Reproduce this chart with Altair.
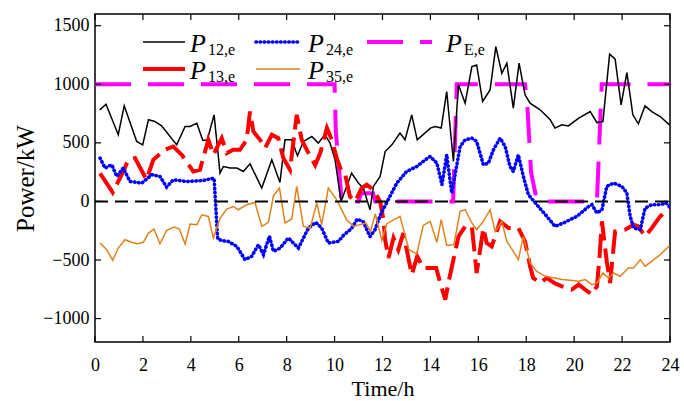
import altair as alt
import pandas as pd

# ---------------- data ----------------
t12 = [0.2, 0.46, 0.97, 1.22, 1.74, 1.99, 2.23, 2.5, 2.78, 3.41, 3.76, 3.97, 4.25, 4.5, 4.69, 4.97,
       5.22, 5.36, 5.64, 5.92, 6.19, 6.47, 6.96, 7.38, 7.72, 7.93, 8.21, 8.45, 8.70, 9.05, 9.32, 9.60,
       9.81, 10.02, 10.27, 10.71, 10.99, 11.2, 11.48, 11.62, 11.9, 12.11, 12.39, 12.73, 12.94, 13.22,
       13.45, 14.0, 14.2, 14.45, 14.68, 14.96, 15.17, 15.45, 15.73, 15.93, 16.18, 16.49, 16.73, 16.98,
       17.19, 17.46, 17.70, 17.95, 18.16, 18.58, 19.0, 19.2, 19.49, 19.76, 20.19, 20.67, 20.95, 21.2,
       21.48, 21.71, 21.96, 22.2, 22.45, 22.68, 22.96, 23.24, 23.59, 23.98]
p12 = [782, 830, 569, 816, 512, 483, 697, 682, 645, 483, 640, 640, 668, 520, 526, 739,
       242, 298, 285, 285, 256, 321, 114, 355, 162, 526, 526, 390, 512, 554, 498, 569,
       498, 355, 0, 242, 157, 114, -71, 128, 213, 426, 483, 583, 526, 739,
       526, 626, 640, 626, 938, 341, 995, 839, 1151, 1165, 853, 952, 1321, 1094,
       1180, 796, 1180, 910, 839, 782, 697, 626, 654, 645, 711, 767, 673, 682,
       1257, 1214, 824, 1100, 739, 662, 816, 767, 725, 654]

t24 = [0.21, 0.42, 0.70, 0.91, 1.18, 1.46, 1.95, 2.37, 2.71, 2.99, 3.27, 3.83, 4.52, 4.97, 5.12,
       5.3, 5.56, 5.92, 6.26, 6.54, 6.82, 7.03, 7.28, 7.45, 7.73, 8.07, 8.49, 8.91, 9.22, 9.46, 9.74,
       10.16, 10.37, 10.71, 10.95, 11.2, 11.48, 11.69, 11.9, 12.2, 12.6, 13.01, 13.43, 13.78, 13.99,
       14.27, 14.48, 14.68, 14.89, 15.24, 15.45, 15.73, 15.93, 16.07, 16.21, 16.42, 16.63, 16.91,
       17.12, 17.32, 17.46, 17.67, 17.88, 18.09, 18.44, 18.86, 19.2, 19.55, 19.83, 20.11, 20.6,
       20.74, 20.95, 21.16, 21.36, 21.64, 21.99, 22.2, 22.34, 22.48, 22.76, 22.96, 23.24, 23.59,
       23.84, 23.98]
p24 = [370, 285, 313, 213, 285, 170, 157, 228, 213, 123, 185, 170, 179, 199, -320,
       -335, -341, -384, -497, -469, -369, -454, -298, -426, -398, -312, -398, -227, -179, -227, -355,
       -341, -290, -230, -150, -175, -300, -240, -120, 0, 157, 256, 298, 355, 384,
       327, 142, 398, 72, 469, 526, 540, 512, 413, 313, 327, 441, 540,
       469, 298, 256, 398, 213, 57, -28, -128, -213, -184, -156, -128, -43,
       -28, -99, -71, 128, 157, 128, 72, -128, -227, -241, -57, -28, -28,
       -14, -43]

t13 = [0.21, 0.74, 1.18, 1.39, 1.67, 2.15, 2.43, 2.92, 3.27, 3.62, 4.1, 4.38, 4.73, 4.94, 5.29,
       5.5, 5.77, 6.05, 6.33, 6.47, 6.61, 6.89, 7.1, 7.38, 7.65, 7.86, 8.14, 8.42, 8.63, 8.91, 9.19,
       9.4, 9.68, 9.88, 10.09, 10.29, 10.43, 10.64, 10.86, 11.13, 11.34, 11.62, 11.9, 12.04, 12.11,
       12.25, 12.46, 12.66, 12.87, 13.01, 13.22, 13.45, 13.7, 13.99, 14.24, 14.41, 14.62, 14.75,
       14.96, 15.17, 15.31, 15.45, 15.73, 15.93, 16.21, 16.35, 16.56, 16.91, 17.26, 17.67, 17.95,
       18.16, 18.29, 18.58, 18.86, 19.2, 19.49, 19.9, 20.19, 20.46, 20.74, 20.95, 21.06, 21.16,
       21.36, 21.5, 21.71, 21.85, 22.13, 22.48, 22.68, 22.96, 23.24, 23.59, 23.98]
p13 = [240, 77, 256, 355, 370, 185, 355, 441, 469, 398, 256, 270, 526, 398, 540,
       413, 441, 441, 526, 767, 597, 526, 455, 569, 540, 370, 270, 739, 526, 413, 310,
       413, 626, 526, 370, 256, 242, 43, 0, 114, 142, 100, 0, -156, -327,
       -483, -312, -412, -270, -412, -625, -469, -568, -568, -568, -696, -838, -696,
       -497, -300, -256, -213, -213, -611, -227, -355, -384, -170, -227, -227, -341,
       -554, -653, -696, -653, -700, -725, -753, -710, -753, -795, -725, -469, -170,
       -511, -696, -256, -250, -241, -199, -213, -298, -227, -128, -57]

t35 = [0.21, 0.49, 0.74, 0.97, 1.25, 1.53, 1.77, 2.02, 2.23, 2.46, 2.71, 2.99, 3.3, 3.52, 3.76,
       3.97, 4.25, 4.46, 4.73, 4.94, 5.22, 5.5, 5.77, 5.98, 6.33, 6.68, 6.96, 7.24, 7.45, 7.7, 7.93,
       8.21, 8.42, 8.7, 8.98, 9.26, 9.46, 9.74, 10.09, 10.5, 10.8, 11.3, 11.5, 11.7, 11.97, 12.18,
       12.73, 13.1, 13.43, 13.7, 13.99, 14.27, 14.45, 14.68, 14.98, 15.24, 15.45, 15.73, 15.93,
       16.21, 16.49, 16.7, 16.98, 17.19, 17.46, 17.67, 17.88, 18.16, 18.44, 18.79, 19.2, 19.49,
       19.83, 20.19, 20.46, 20.74, 20.95, 21.2, 21.43, 21.64, 21.92, 22.26, 22.48, 22.76, 22.96,
       23.59, 23.98]
p35 = [-355, -412, -503, -398, -327, -349, -361, -349, -270, -236, -361, -247, -219, -236, -364,
       -193, -199, -114, -128, -312, -142, -65, -43, -71, -28, -9, -213, -179, 49, 114, -184,
       -150, 128, -213, -227, -14, -199, 114, 14, -156, -213, -184, -256, -105, -330, -190,
       -128, -410, -450, -205, -170, -350, -156, -375, -369, -85, -71, -184, -241,
       -170, -71, -256, -170, -341, -426, -497, -298, -525, -597, -639, -653, -667,
       -673, -682, -667, -710, -696, -611, -653, -611, -639, -568, -568, -497, -554,
       -454, -378]

tE = [0, 10.0, 10.05, 10.3, 11.0, 11.1, 11.6, 11.7, 14.95, 15.1, 17.95, 18.05, 18.2, 18.45, 20.95, 21.15, 24]
pE = [1000, 1000, 600, 0, 0, 70, 70, 0, 0, 1000, 1000, 800, 250, 0, 0, 1000, 1000]

x_ticks = [0, 2, 4, 6, 8, 10, 12, 14, 16, 18, 20, 22, 24]
y_ticks = [-1000, -500, 0, 500, 1000, 1500]

# ---------------- layout ----------------
W, H = 575, 328
FONT = "Liberation Serif"
MINUS_EXPR = "datum.value < 0 ? '\u2212' + format(-datum.value, 'd') : format(datum.value, 'd')"

x_scale = alt.Scale(domain=[0, 24], nice=False, zero=False)
y_scale = alt.Scale(domain=[-1200, 1600], nice=False, zero=False)

X = alt.X("t:Q", scale=x_scale,
          axis=alt.Axis(values=x_ticks, title="Time/h", ticks=False, domain=False, grid=False,
                        format="d",
                        labelFont=FONT, labelFontSize=18, labelColor="black", labelPadding=14,
                        titleFont=FONT, titleFontSize=22, titleFontWeight="normal",
                        titleColor="black", titlePadding=4, labelFlush=False))
Y = alt.Y("v:Q", scale=y_scale,
          axis=alt.Axis(values=y_ticks, title="Power/kW", ticks=False, domain=False, grid=False,
                        labelExpr=MINUS_EXPR,
                        labelFont=FONT, labelFontSize=18, labelColor="black", labelPadding=6,
                        titleFont=FONT, titleFontSize=25, titleFontWeight="normal",
                        titleColor="black", titlePadding=4, labelFlush=False))


def line_layer(t, v, color, width, dash=None, cap="butt"):
    df = pd.DataFrame({"t": t, "v": v})
    kw = dict(color=color, strokeWidth=width, strokeCap=cap, clip=True)
    if dash is not None:
        kw["strokeDash"] = dash
    return alt.Chart(df).mark_line(**kw).encode(x=X, y=Y)


BLUE_DASH = [0.5, 3.6]
lE = line_layer(tE, pE, "#FF00FF", 4, [36, 17])
l12 = line_layer(t12, p12, "black", 1.5)
l13 = line_layer(t13, p13, "#FF0000", 4, [24, 8])
l24 = line_layer(t24, p24, "#0000FF", 3.6, BLUE_DASH, cap="round")
l35 = line_layer(t35, p35, "#E0821E", 1.5)

zero = alt.Chart(pd.DataFrame({"v": [0]})).mark_rule(
    color="black", strokeWidth=2, strokeDash=[13, 7]).encode(
    y=Y, x=alt.value(0), x2=alt.value(W))

# inner ticks
xt = pd.DataFrame({"t": x_ticks})
yt = pd.DataFrame({"v": y_ticks})
tick_style = dict(color="black", strokeWidth=1.2)
xb = alt.Chart(xt).mark_rule(**tick_style).encode(x=X, y=alt.value(H), y2=alt.value(H - 6))
xtop = alt.Chart(xt).mark_rule(**tick_style).encode(x=X, y=alt.value(0), y2=alt.value(6))
yl = alt.Chart(yt).mark_rule(**tick_style).encode(y=Y, x=alt.value(0), x2=alt.value(6))
yr = alt.Chart(yt).mark_rule(**tick_style).encode(y=Y, x=alt.value(W), x2=alt.value(W - 6))

# legend (manual, with subscripts)
one = pd.DataFrame({"a": [0]})
legend_items = [
    # color, width, dash, cap, x1, x2, row, Px, sub
    ("black", 1.5, None, "butt", 48, 90, 0, 95, "12,e"),
    ("#0000FF", 3.6, BLUE_DASH, "round", 161, 203, 0, 213, "24,e"),
    ("#FF00FF", 4, [36, 17], "butt", 272, 337, 0, 351, "E,e"),
    ("#FF0000", 4, None, "butt", 48, 90, 1, 95, "13,e"),
    ("#E0821E", 1.5, None, "butt", 161, 205, 1, 213, "35,e"),
]
row_line_y = [28, 55]
row_base_y = [38, 65]
legend_layers = []
for color, width, dash, cap, x1, x2, row, px, sub in legend_items:
    kw = dict(color=color, strokeWidth=width, strokeCap=cap)
    if dash is not None:
        kw["strokeDash"] = dash
    legend_layers.append(alt.Chart(one).mark_rule(**kw).encode(
        x=alt.value(x1), x2=alt.value(x2), y=alt.value(row_line_y[row])))
    legend_layers.append(alt.Chart(one).mark_text(
        font=FONT, fontSize=26, fontStyle="italic", align="left", baseline="alphabetic",
        color="black").encode(x=alt.value(px), y=alt.value(row_base_y[row]), text=alt.value("P")))
    legend_layers.append(alt.Chart(one).mark_text(
        font=FONT, fontSize=16, align="left", baseline="alphabetic",
        color="black").encode(x=alt.value(px + 18), y=alt.value(row_base_y[row] + 3),
                              text=alt.value(sub)))

chart = alt.layer(
    lE, l12, l13, l24, l35, zero, xb, xtop, yl, yr, *legend_layers
).properties(
    width=W, height=H,
    autosize=alt.AutoSizeParams(type="none"),
    padding={"left": 95, "top": 14, "right": 684 - 95 - W, "bottom": 401 - 14 - H},
    background="white",
).configure_view(
    stroke="black", strokeWidth=1.5
)

chart.save("out.html", embed_options={"renderer": "svg", "actions": False})
